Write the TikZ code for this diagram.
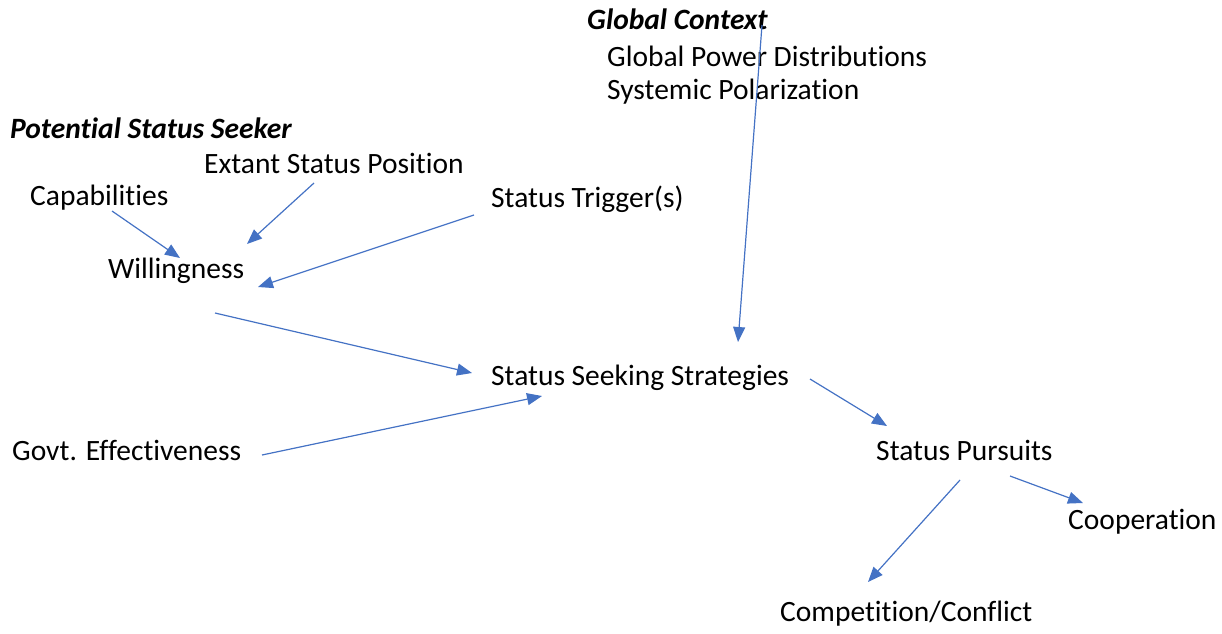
\documentclass[tikz,border=0pt]{standalone}
\usepackage{fontspec}
\setmainfont[Ligatures=NoCommon]{Carlito}
\usetikzlibrary{arrows.meta}
\definecolor{arrowblue}{HTML}{4472C4}
\tikzset{
  lbl/.style={anchor=west, inner sep=0pt, font=\fontsize{29.5}{34}\selectfont},
  hdr/.style={lbl, font=\fontsize{29.5}{34}\selectfont\bfseries\itshape},
  conn/.style={draw=arrowblue, line width=1.2pt, -{Triangle[length=15pt,width=12pt]}, arrowblue},
}
\begin{document}
\begin{tikzpicture}[x=1pt,y=-1pt]
\useasboundingbox (0,0) rectangle (1222,633);
\node[hdr] (gc) at (587,19) {Global Context};
\node[lbl] (gpd) at (607,56) {Global Power Distributions};
\node[lbl] (sp) at (607,92) {Systemic Polarization};
\node[hdr] (pss) at (10,128) {Potential Status Seeker};
\node[lbl] (esp) at (204,163) {Extant Status Position};
\node[lbl] (cap) at (30,198) {Capabilities};
\node[lbl] (trig) at (491,199) {Status Trigger(s)};
\node[lbl] (will) at (108,271) {Willingness};
\node[lbl] (sss) at (491,378) {Status Seeking Strategies};
\node[lbl] (govt) at (12,450) {Govt. Effectiveness};
\node[lbl] (purs) at (876,450) {Status Pursuits};
\node[lbl] (coop) at (1068,522) {Cooperation};
\node[lbl] (comp) at (780,614) {Competition/Conflict};
% connector endpoints
\coordinate (capS) at (112,211);
\coordinate (capT) at (180,258);
\coordinate (espS) at (314,183);
\coordinate (espT) at (247,244);
\coordinate (trigS) at (474,215);
\coordinate (trigT) at (258,287);
\coordinate (gcS) at (762,25);
\coordinate (gcT) at (738,342);
\coordinate (willS) at (215,313);
\coordinate (willT) at (472,373);
\coordinate (govtS) at (262,455);
\coordinate (govtT) at (542,396);
\coordinate (sssS) at (810,379);
\coordinate (sssT) at (887,426);
\coordinate (coopS) at (1010,476);
\coordinate (coopT) at (1083,503);
\coordinate (compS) at (960,480);
\coordinate (compT) at (868,582);
\draw[conn] (capS) -- (capT);
\draw[conn] (espS) -- (espT);
\draw[conn] (trigS) -- (trigT);
\draw[conn] (gcS) -- (gcT);
\draw[conn] (willS) -- (willT);
\draw[conn] (govtS) -- (govtT);
\draw[conn] (sssS) -- (sssT);
\draw[conn] (coopS) -- (coopT);
\draw[conn] (compS) -- (compT);
\end{tikzpicture}
\end{document}
